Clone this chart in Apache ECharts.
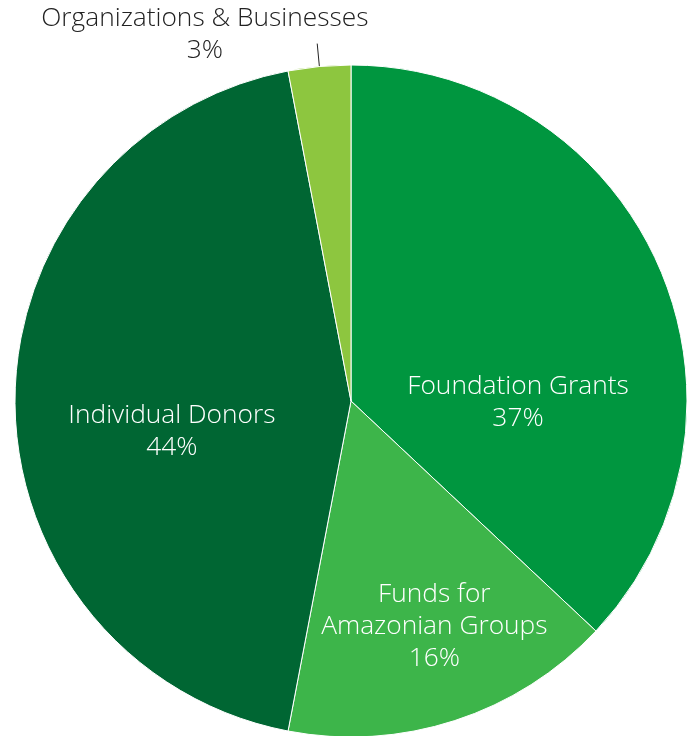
<!DOCTYPE html>
<html>
<head>
<meta charset="utf-8">
<style>
html,body{margin:0;padding:0;background:#fff;}
#c{width:696px;height:736px;}
</style>
<script src="https://cdn.jsdelivr.net/npm/echarts@6/dist/echarts.min.js"></script>
</head>
<body>
<div id="c"></div>
<script>
const categories = ['Foundation Grants', 'Funds for\nAmazonian Groups', 'Individual Donors', 'Organizations & Businesses'];
const values = [37, 16, 44, 3];
const colors = ['#00963F', '#3DB54A', '#006633', '#8DC63F'];
// label block centres, as offsets from the pie centre in units of the radius
const labelOffsets = [[0.497, 0.003], [0.248, 0.67], [-0.533, 0.092], [-0.435, -1.092]];

const chart = echarts.init(document.getElementById('c'));
const CX = 351, CY = 401, R = 336;
chart.setOption({
  animation: false,
  series: [{
    type: 'pie',
    center: [CX, CY],
    radius: [0, R],
    startAngle: 90,
    clockwise: true,
    avoidLabelOverlap: false,
    itemStyle: { borderColor: '#ffffff', borderWidth: 1 },
    label: {
      show: true,
      position: 'inside',
      color: '#ffffff',
      fontFamily: 'Open Sans',
      fontWeight: 300,
      fontSize: 26.3,
      lineHeight: 32,
      align: 'center',
      formatter: p => p.name + '\n' + p.value + '%'
    },
    labelLayout: function (params) {
      const o = labelOffsets[params.dataIndex];
      const res = { x: CX + o[0] * R, y: CY + o[1] * R, align: 'center', verticalAlign: 'middle' };
      if (params.labelLinePoints && params.labelLinePoints.length) {
        const p0 = params.labelLinePoints[0];
        const dx = p0[0] - CX, dy = p0[1] - CY, len = Math.sqrt(dx * dx + dy * dy);
        res.labelLinePoints = [[p0[0], p0[1]], [p0[0] + dx / len * 23, p0[1] + dy / len * 23]];
      }
      return res;
    },
    data: categories.map((n, i) => {
      const d = { name: n, value: values[i], itemStyle: { color: colors[i] } };
      if (i === 3) {
        d.label = { position: 'outside', color: '#222222' };
        d.labelLine = { show: true, length: 22, length2: 0, smooth: false, lineStyle: { color: '#222', width: 1 } };
      }
      return d;
    })
  }]
});
</script>
</body>
</html>
